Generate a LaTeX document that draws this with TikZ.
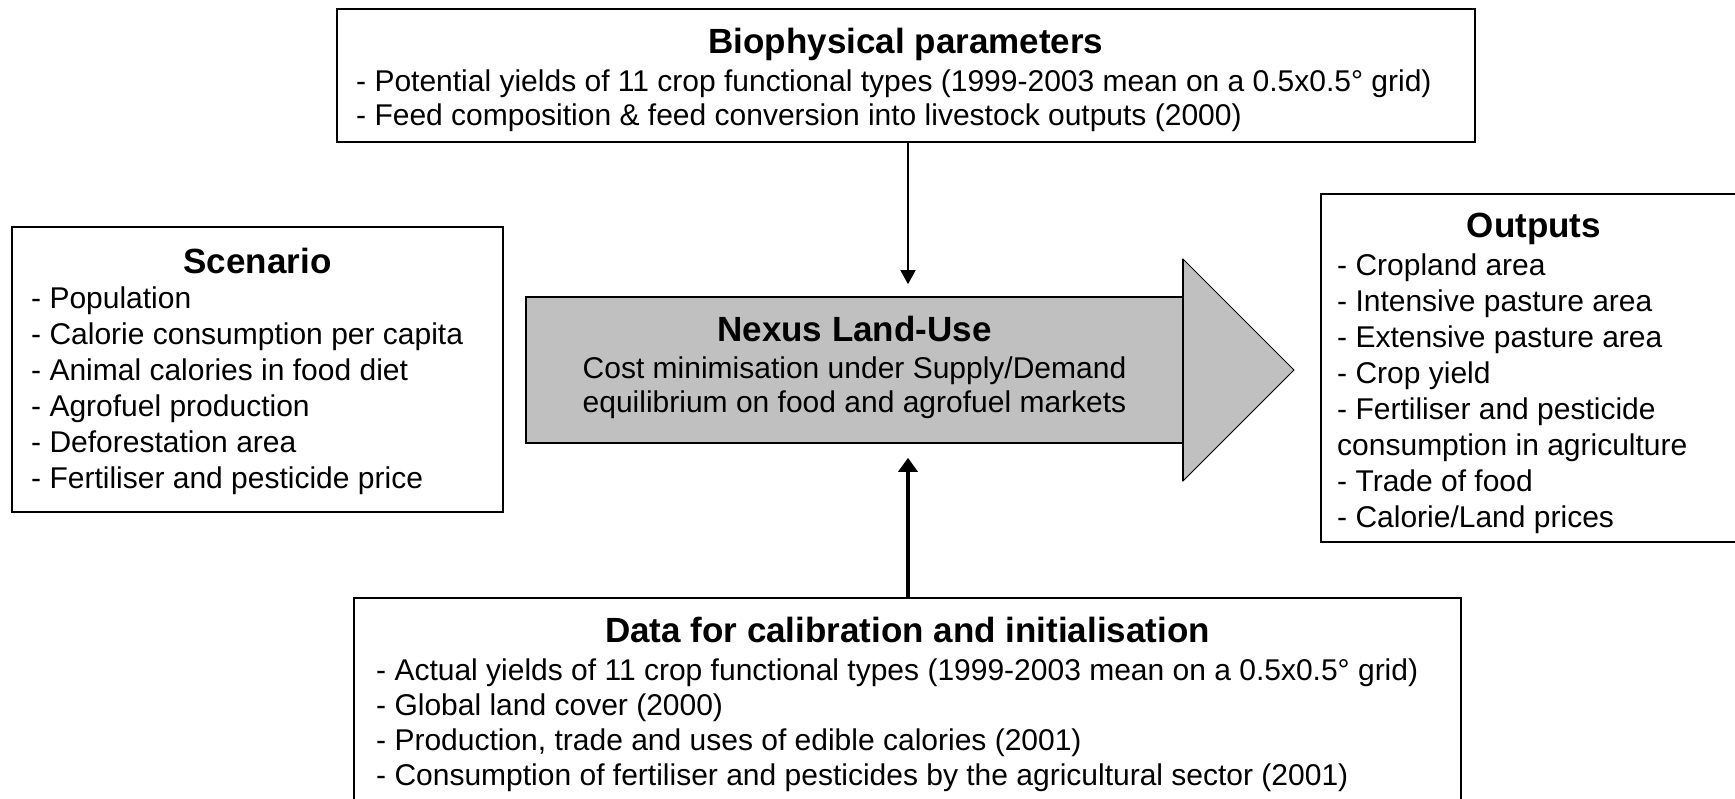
\documentclass[tikz,border=0pt]{standalone}
\usepackage{fontspec}
\setmainfont{Liberation Sans}
\usetikzlibrary{arrows.meta}
\definecolor{coregray}{HTML}{C0C0C0}
\begin{document}
\begin{tikzpicture}[x=1pt,y=-1pt,
  box/.style={draw=black, line width=1.6pt, rectangle, inner sep=0pt},
  ttl/.style={anchor=base, inner sep=0pt, font=\fontsize{35}{42}\selectfont\bfseries},
  itm/.style={anchor=base west, inner sep=0pt, font=\fontsize{30}{36}\selectfont},
  ctr/.style={anchor=base, inner sep=0pt, font=\fontsize{30}{36}\selectfont},
  feedthin/.style={-{Triangle[width=15pt,length=14pt]}, line width=1.5pt},
  feedthick/.style={-{Triangle[width=19pt,length=14pt]}, line width=4pt}]

\useasboundingbox (0,0) rectangle (1735,798);
\clip (0,0) rectangle (1735,798);

% input and output boxes
\node[box, minimum width=1138pt, minimum height=133pt] (bio)  at (906,75.5) {};
\node[box, minimum width=491pt,  minimum height=285pt] (scen) at (257.5,369.5) {};
\node[box, minimum width=426pt,  minimum height=348pt] (outp) at (1534,368) {};
\node[box, minimum width=1107pt, minimum height=232pt] (data) at (907.5,714) {};

% central model arrow
\node[box, fill=coregray, minimum width=657pt, minimum height=146pt] (nexus) at (854.5,370) {};
\coordinate (headtop) at (1183,259);
\coordinate (headbot) at (1183,481);
\coordinate (headtip) at (1294,370);
\draw[fill=coregray, line width=1pt, line join=miter] (headtop) -- (headtip) -- (headbot) -- cycle;
\draw[line width=1.6pt] (headtop) -- (headbot);

% Biophysical parameters
\node[ttl] (biot) at (906,53) {Biophysical parameters};
\node[itm] (bio1) at (356,91) {- Potential yields of 11 crop functional types (1999-2003 mean on a 0.5x0.5° grid)};
\node[itm] (bio2) at (356,125) {- Feed composition \& feed conversion into livestock outputs (2000)};

% Scenario
\node[ttl] (scent) at (257.5,273) {Scenario};
\node[itm] (scen1) at (31,308) {- Population};
\node[itm] (scen2) at (31,344) {- Calorie consumption per capita};
\node[itm] (scen3) at (31,380) {- Animal calories in food diet};
\node[itm] (scen4) at (31,416) {- Agrofuel production};
\node[itm] (scen5) at (31,452) {- Deforestation area};
\node[itm] (scen6) at (31,488) {- Fertiliser and pesticide price};

% Nexus Land-Use
\node[ttl] (nexust) at (854.5,341) {Nexus Land-Use};
\node[ctr] (nexus1) at (854.5,378) {Cost minimisation under Supply/Demand};
\node[ctr] (nexus2) at (854.5,412) {equilibrium on food and agrofuel markets};

% Outputs
\node[ttl] (outpt) at (1534,237) {Outputs};
\node[itm] (outp1) at (1337,275) {- Cropland area};
\node[itm] (outp2) at (1337,311) {- Intensive pasture area};
\node[itm] (outp3) at (1337,347) {- Extensive pasture area};
\node[itm] (outp4) at (1337,383) {- Crop yield};
\node[itm] (outp5) at (1337,419) {- Fertiliser and pesticide};
\node[itm] (outp6) at (1337,455) {consumption in agriculture};
\node[itm] (outp7) at (1337,491) {- Trade of food};
\node[itm] (outp8) at (1337,527) {- Calorie/Land prices};

% Data for calibration and initialisation
\node[ttl] (datat) at (907.5,642) {Data for calibration and initialisation};
\node[itm] (data1) at (376,680) {- Actual yields of 11 crop functional types (1999-2003 mean on a 0.5x0.5° grid)};
\node[itm] (data2) at (376,715) {- Global land cover (2000)};
\node[itm] (data3) at (376,750) {- Production, trade and uses of edible calories (2001)};
\node[itm] (data4) at (376,785) {- Consumption of fertiliser and pesticides by the agricultural sector (2001)};

% feeds into the model
\coordinate (axis) at (908,0);
\draw[feedthin, shorten >=12pt] (bio.south -| axis) -- (nexus.north -| axis);
\draw[feedthick, shorten >=14pt] (data.north -| axis) -- (nexus.south -| axis);
\end{tikzpicture}
\end{document}
